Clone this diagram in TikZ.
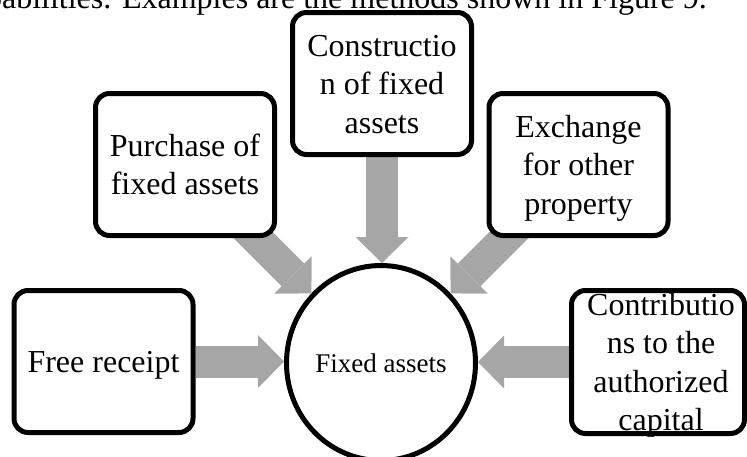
\documentclass[tikz,border=0pt]{standalone}
\usepackage{fontspec}
\setmainfont{Liberation Serif}
\usetikzlibrary{arrows.meta,shapes.geometric,calc,backgrounds}
\definecolor{arrowgray}{RGB}{166,166,166}
\newcommand\tstrut{\rule[-8.25pt]{0pt}{38.5pt}}
\begin{document}
\begin{tikzpicture}[x=1pt,y=-1pt,
  box/.style={draw=black, line width=5pt, rounded corners=14pt, fill=white,
    minimum width=179pt, minimum height=142pt, inner sep=0pt},
  boxtext/.style={align=center, inner sep=0pt, font=\fontsize{32}{38.5}\selectfont},
  hub/.style={ellipse, draw=black, line width=5pt, fill=white,
    minimum width=189pt, minimum height=195pt, inner sep=0pt,
    font=\fontsize{27}{32}\selectfont},
  fat/.style={draw=arrowgray, line width=32pt,
    -{Triangle[length=26pt,width=53pt,line width=0pt]}},
]
\useasboundingbox (0,0) rectangle (747,456);
\clip (0,0) rectangle (747,456);

% caption line cut by the top edge
\node[anchor=base east, inner sep=0pt, font=\fontsize{32}{38}\selectfont] (cap)
  at (707,8) {capabilities. Examples are the methods shown in Figure 9.};

% boxes
\node[box] (co) at (382,83.5) {};
\node[boxtext] (cot) at (co) {\tstrut Constructio\\\tstrut n of fixed\\\tstrut assets};

\node[box] (pu) at (185,164.5) {};
\node[boxtext] (put) at (pu) {\tstrut Purchase of\\\tstrut fixed assets};

\node[box] (ex) at (578.5,164.5) {};
\node[boxtext] (ext) at (ex) {\tstrut Exchange\\\tstrut for other\\\tstrut property};

\node[box] (fr) at (103.5,361.5) {};
\node[boxtext] (frt) at (fr) {\tstrut Free receipt};

\node[box, minimum width=173pt, minimum height=143pt] (ct) at (658,362) {};
\node[boxtext] (ctt) at ($(ct)+(3,0)$) {\tstrut Contributio\\\tstrut ns to the\\\tstrut authorized\\\tstrut capital};

% hub
\node[hub] (fa) at (381,363) {Fixed assets};

% connectors
\coordinate (pa) at ($(fa.135)+(-85,-85)$);
\coordinate (ea) at ($(fa.45)+(85,-85)$);
\begin{pgfonlayer}{background}
  \draw[fat] (co.south) -- (co.south |- fa.north);
  \draw[fat] (pa) -- (fa.135);
  \draw[fat] (ea) -- (fa.45);
  \draw[fat] (fr.east) -- (fr.east -| fa.west);
  \draw[fat] (ct.west) -- (ct.west -| fa.east);
\end{pgfonlayer}
\end{tikzpicture}
\end{document}
